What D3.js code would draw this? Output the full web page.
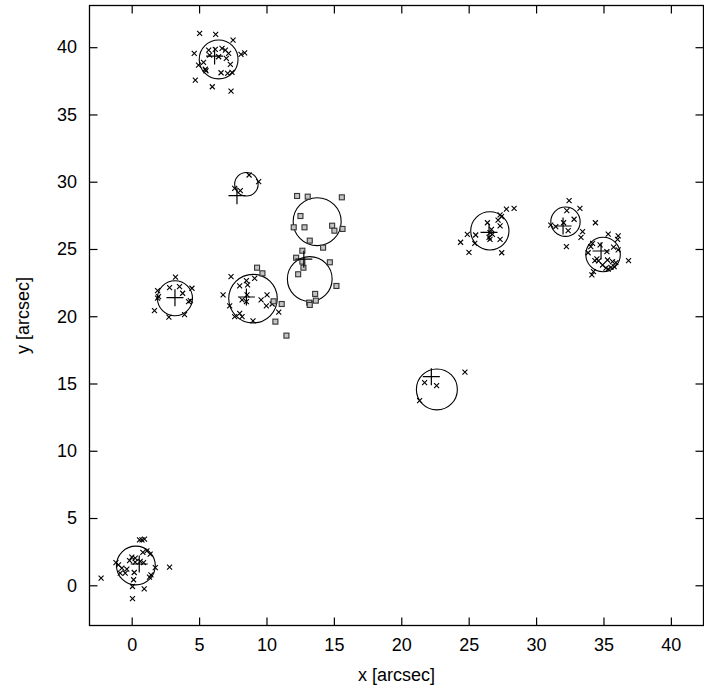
<!DOCTYPE html>
<html><head><meta charset="utf-8">
<script src="https://cdn.jsdelivr.net/npm/d3@7"></script>
<style>body{margin:0;background:#fff}svg{display:block}text{font-family:"Liberation Sans",Arial,sans-serif}</style>
</head><body>
<script>
const xTicks=[0,5,10,15,20,25,30,35,40];
const yTicks=[0,5,10,15,20,25,30,35,40];
// cross-marked sources [x, y] in arcsec
const crossPts=[
 [0.58,3.38],[0.76,3.38],[0.95,3.43],[-2.27,0.53],[2.81,1.35],[0.06,-1.0],[0.93,-0.26],[0.06,-0.09],[0.14,0.41],[0.19,0.95],
 [-0.85,0.9],[-0.48,0.9],[-0.73,1.28],[-0.36,1.2],[-1.17,1.69],[-0.98,1.52],[-0.16,1.84],[0.01,2.09],[0.26,2.02],[0.63,1.77],
 [0.88,1.69],[0.83,2.44],[1.13,2.56],[1.37,2.32],[1.75,1.32],[1.43,0.78],[1.32,0.61],[0.26,1.72],
 [5.04,41.03],[6.23,40.95],[7.52,40.53],[4.64,39.54],[5.71,39.78],[6.2,39.84],[6.7,39.91],[6.95,39.78],[7.19,39.54],[5.78,39.41],
 [6.45,39.29],[7.02,39.17],[8.11,39.46],[8.38,39.58],[5.33,38.87],[4.96,38.67],[7.32,38.72],[5.46,38.36],[5.51,38.25],[6.63,38.1],
 [7.12,38.05],[7.44,38.13],[4.72,37.56],[5.98,37.06],[7.37,36.74],
 [8.71,30.5],[9.42,30.0],[7.64,29.51],[8.06,29.33],
 [3.25,22.9],[2.81,22.12],[3.55,22.2],[3.78,21.71],[4.47,22.08],[1.92,21.9],[1.99,21.46],[1.92,21.34],[4.22,21.08],[4.35,21.16],
 [1.69,20.42],[2.76,19.93],[3.92,20.12],
 [7.37,22.94],[8.51,22.64],[9.12,22.82],[8.01,22.25],[8.6,22.33],[6.78,21.58],[8.19,21.21],[8.51,21.08],[8.56,21.58],[9.6,21.21],
 [10.04,21.58],[9.99,20.77],[10.42,20.91],[7.27,20.77],[10.91,20.3],[7.64,19.97],[8.01,20.22],[8.19,19.97],[9.0,19.65],
 [21.73,15.07],[22.62,14.84],[21.36,13.73],[24.72,15.84],
 [27.8,27.97],[28.37,28.02],[27.33,27.53],[27.43,27.4],[27.18,27.15],[26.39,26.95],[27.33,26.71],[26.69,26.46],[26.58,26.21],[26.76,26.09],
 [26.51,25.87],[26.58,25.72],[25.52,26.04],[24.9,26.09],[27.33,25.72],[24.4,25.5],[25.45,25.42],[25.02,24.75],[27.45,24.72],
 [32.45,28.59],[33.25,28.02],[32.28,27.85],[32.82,27.21],[32.04,26.95],[31.09,26.78],[31.46,26.66],[32.38,26.36],[33.45,26.29],[33.33,25.87],
 [32.25,25.17],[34.4,26.95],
 [35.35,26.11],[36.09,25.97],[36.05,25.72],[34.19,25.42],[34.06,25.17],[34.75,25.3],[35.75,25.13],[36.09,24.93],[35.25,24.8],[33.86,24.72],
 [36.86,24.13],[34.36,24.13],[34.51,24.26],[34.63,24.11],[35.3,24.18],[35.67,24.06],[35.92,23.98],[34.93,23.81],[35.35,23.51],[35.18,23.57],
 [35.55,23.64],[35.79,23.69],[34.26,23.31],[34.14,23.07]
];
// square-marked sources [x, y]
const squarePts=[
 [9.3,23.61],[9.7,23.19],[10.53,21.11],[11.13,20.91],[10.66,19.6],[11.48,18.56],
 [12.27,28.94],[13.06,28.89],[15.59,28.84],[12.52,27.45],[12.82,26.61],[12.02,26.61],[14.87,26.73],[15.04,26.36],[15.64,26.49],
 [13.21,25.62],[14.2,25.1],[12.66,24.87],[12.2,24.35],[12.66,24.06],[12.74,23.61],[14.7,24.01],[12.35,23.12],[15.19,22.25],
 [13.61,21.66],[13.66,21.16],[13.17,21.01],[13.21,20.84]
];
// circles [cx, cy, radius] in arcsec
const circles=[
 [0.31,1.47,1.44],[6.45,39.09,1.44],[8.51,29.81,0.87],[3.21,21.34,1.3],[9.0,21.31,1.8],
 [13.76,27.03,1.78],[13.21,22.77,1.66],[22.64,14.56,1.52],[26.57,26.35,1.42],[32.18,27.03,1.09],[34.97,24.59,1.28]
];
// plus-marked centres [x, y]
const plusPts=[
 [0.56,1.58],[6.15,39.34],[7.81,28.96],[3.21,21.38],[8.51,21.43],[12.77,24.24],[22.23,15.51],[26.51,26.24],[32.0,26.71],[34.82,24.85]
];

const W=704,H=693;
const x=d3.scaleLinear().domain([-3.13,42.42]).range([89.5,703.5]);
const y=d3.scaleLinear().domain([-2.99,43.1]).range([625.5,5.5]);
const svg=d3.select("body").append("svg").attr("width",W).attr("height",H);
const fs=18;

// axes
const gB=svg.append("g").attr("transform",`translate(0,${y.range()[0]})`)
 .call(d3.axisBottom(x).tickValues(xTicks).tickSizeInner(-8).tickSizeOuter(0).tickPadding(13));
const gT=svg.append("g").attr("transform",`translate(0,${y.range()[1]})`)
 .call(d3.axisTop(x).tickValues(xTicks).tickSizeInner(-8).tickSizeOuter(0).tickFormat(""));
const gL=svg.append("g").attr("transform",`translate(${x.range()[0]},0)`)
 .call(d3.axisLeft(y).tickValues(yTicks).tickSizeInner(-8).tickSizeOuter(0).tickPadding(12.5));
const gR=svg.append("g").attr("transform",`translate(${x.range()[1]},0)`)
 .call(d3.axisRight(y).tickValues(yTicks).tickSizeInner(-8).tickSizeOuter(0).tickFormat(""));
[gB,gT,gL,gR].forEach(g=>{
 g.select(".domain").remove();
 g.selectAll("line").attr("stroke","#000").attr("stroke-width",1.2);
 g.selectAll("text").attr("font-size",fs).attr("fill","#000").style("font-family",'"Liberation Sans",Arial,sans-serif');
});
svg.append("rect").attr("x",x.range()[0]).attr("y",y.range()[1])
 .attr("width",x.range()[1]-x.range()[0]).attr("height",y.range()[0]-y.range()[1])
 .attr("fill","none").attr("stroke","#000").attr("stroke-width",1.3);

// titles
svg.append("text").attr("x",(x.range()[0]+x.range()[1])/2).attr("y",681)
 .attr("text-anchor","middle").attr("font-size",fs).text("x [arcsec]");
svg.append("text").attr("transform",`translate(29,${(y.range()[0]+y.range()[1])/2}) rotate(-90)`)
 .attr("text-anchor","middle").attr("font-size",fs).text("y [arcsec]");

const k=x(1)-x(0);
const plot=svg.append("g");
// circles
plot.selectAll("circle.c").data(circles).join("circle").attr("class","c")
 .attr("cx",d=>x(d[0])).attr("cy",d=>y(d[1])).attr("r",d=>d[2]*k)
 .attr("fill","none").attr("stroke","#000").attr("stroke-width",1.1);
// cross markers
const s=2.5;
plot.selectAll("path.x").data(crossPts).join("path").attr("class","x")
 .attr("d",d=>{const px=x(d[0]),py=y(d[1]);return `M${px-s},${py-s}L${px+s},${py+s}M${px-s},${py+s}L${px+s},${py-s}`;})
 .attr("stroke","#000").attr("stroke-width",1.1).attr("fill","none");
// square markers
plot.selectAll("rect.sq").data(squarePts).join("rect").attr("class","sq")
 .attr("x",d=>x(d[0])-2.5).attr("y",d=>y(d[1])-2.5).attr("width",5).attr("height",5)
 .attr("fill","#c4c4c4").attr("stroke","#333").attr("stroke-width",1.1);
// plus markers
const p=8.5;
plot.selectAll("path.p").data(plusPts).join("path").attr("class","p")
 .attr("d",d=>{const px=x(d[0]),py=y(d[1]);return `M${px-p},${py}L${px+p},${py}M${px},${py-p}L${px},${py+p}`;})
 .attr("stroke","#000").attr("stroke-width",1.2).attr("fill","none");
</script>
</body></html>
